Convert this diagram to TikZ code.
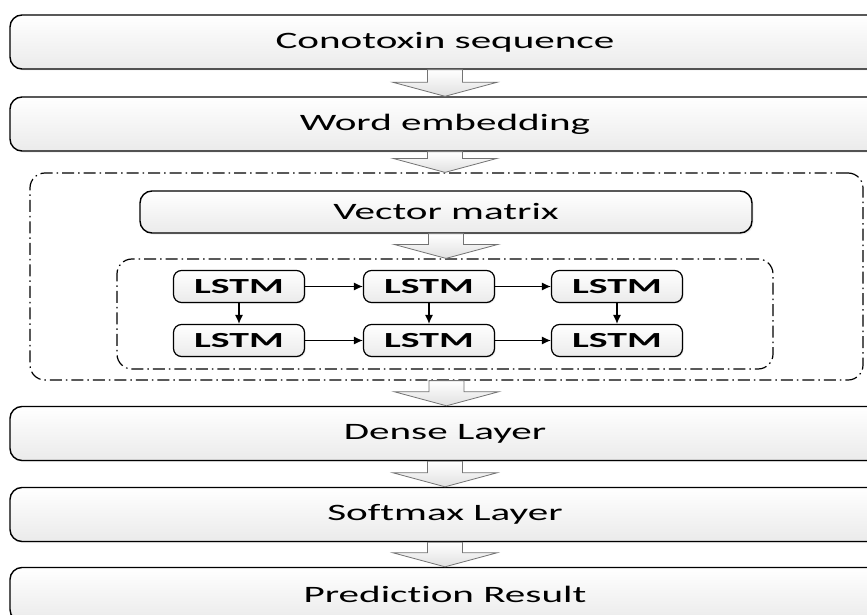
\documentclass[tikz,border=0pt]{standalone}
\usepackage{fontspec}
\newfontfamily\diagfont[FakeStretch=1.75,Ligatures=NoCommon]{Carlito}
\newfontfamily\cellfont[FakeStretch=1.85,Ligatures=NoCommon]{Carlito Bold}
\usetikzlibrary{arrows.meta,calc,shadows}

\tikzset{
  layerbox/.style={draw, line width=1.4pt, rounded corners=12pt,
    top color=white, bottom color=black!8,
    drop shadow={shadow xshift=1.5pt, shadow yshift=-1.5pt, fill=black!15},
    minimum width=870pt, minimum height=54pt,
    font=\diagfont\fontsize{23.5}{26}\selectfont},
  cellbox/.style={draw, line width=1.2pt, rounded corners=8pt,
    top color=white, bottom color=black!8,
    drop shadow={shadow xshift=1.2pt, shadow yshift=-1.2pt, fill=black!15},
    minimum width=131pt, minimum height=32pt,
    font=\cellfont\fontsize{21.5}{24}\selectfont},
  groupbox/.style={draw, line width=1.2pt, rounded corners=15pt,
    dash pattern=on 12pt off 4pt on 1.5pt off 4pt},
  cellarrow/.style={-{Latex[length=9pt,width=8pt]}, line width=1.1pt},
  hollowarrow/.style={draw=black!55, line width=0.8pt, top color=white, bottom color=black!12},
}

% hollow block arrow from one node down to the next
\newcommand{\hollowlink}[2]{%
  \path[hollowarrow] ($(#1.south)+(-17.5,0)$) -- ($(#1.south)+(17.5,0)$)
    -- ($(#1.south |- #2.north)+(17.5,-14)$) -- ($(#1.south |- #2.north)+(52,-14)$)
    -- (#1.south |- #2.north)
    -- ($(#1.south |- #2.north)+(-52,-14)$) -- ($(#1.south |- #2.north)+(-17.5,-14)$) -- cycle;}

\begin{document}
\begin{tikzpicture}[x=1pt,y=-1pt]
  \useasboundingbox (0,0) rectangle (867,615);
  %%%groups
  \node[groupbox, minimum width=833pt, minimum height=207pt] at (446.5,276.5) (outer){};
  \node[groupbox, minimum width=656pt, minimum height=110pt] at (445,314) (inner){};
  %%%layers
  \node[layerbox] at (445,42) (seq){Conotoxin sequence};
  \node[layerbox] at (445,124) (embed){Word embedding};
  \node[layerbox, minimum width=612pt, minimum height=42pt] at (446,212) (vec){Vector matrix};
  \node[layerbox] at (445,433.5) (dense){Dense Layer};
  \node[layerbox] at (445,514.5) (soft){Softmax Layer};
  \node[layerbox] at (445,594.5) (pred){Prediction Result};
  %%%cells
  %top row
  \node[cellbox] at (239,286.5) (L11){LSTM};
  \node[cellbox] at (429,286.5) (L12){LSTM};
  \node[cellbox] at (617,286.5) (L13){LSTM};
  %bottom row
  \node[cellbox] at (239,340.5) (L21){LSTM};
  \node[cellbox] at (429,340.5) (L22){LSTM};
  \node[cellbox] at (617,340.5) (L23){LSTM};
  %%%links
  %cells
  \draw[cellarrow] (L11) -- (L12);
  \draw[cellarrow] (L12) -- (L13);
  \draw[cellarrow] (L21) -- (L22);
  \draw[cellarrow] (L22) -- (L23);
  \draw[cellarrow] (L11) -- (L21);
  \draw[cellarrow] (L12) -- (L22);
  \draw[cellarrow] (L13) -- (L23);
  %block arrows
  \hollowlink{seq}{embed}
  \hollowlink{embed}{outer}
  \hollowlink{vec}{inner}
  \hollowlink{outer}{dense}
  \hollowlink{dense}{soft}
  \hollowlink{soft}{pred}
\end{tikzpicture}
\end{document}
